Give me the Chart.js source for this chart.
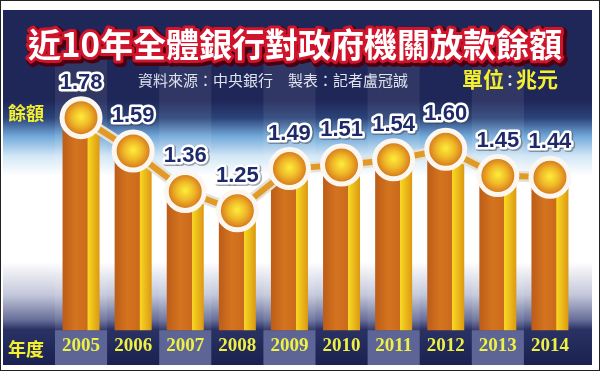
<!DOCTYPE html>
<html>
<head>
<meta charset="utf-8">
<script src="https://cdn.jsdelivr.net/npm/chart.js@4/dist/chart.umd.min.js"></script>
<style>
  html, body { margin: 0; padding: 0; background: #fff; }
  canvas { display: block; }
</style>
</head>
<body>
<canvas id="myChart" width="600" height="371"></canvas>
<script>
// data
const years = ['2005', '2006', '2007', '2008', '2009', '2010', '2011', '2012', '2013', '2014'];
const balance = [1.78, 1.59, 1.36, 1.25, 1.49, 1.51, 1.54, 1.60, 1.45, 1.44];

const titleText = '近10年全體銀行對政府機關放款餘額';
const sourceText = '資料來源：中央銀行　製表：記者盧冠誠';

const NAVY = '#1f2658';
const CJK = '"Noto Sans CJK TC", "Noto Sans CJK SC", sans-serif';

function colWidth(chart) {
  const x = chart.scales.x;
  return x.getPixelForValue(1) - x.getPixelForValue(0);
}

// orange bar with a yellow strip on its right side
function barFill(c) {
  const chart = c.chart;
  if (!chart.scales.x) return '#d47a26';
  const cx = chart.scales.x.getPixelForValue(c.dataIndex);
  const w = colWidth(chart) * 0.71;
  if (!Number.isFinite(cx) || !Number.isFinite(w)) return '#d47a26';
  const g = chart.ctx.createLinearGradient(cx - w / 2, 0, cx + w / 2, 0);
  g.addColorStop(0, '#bc5c18');
  g.addColorStop(0.35, '#d4741f');
  g.addColorStop(0.67, '#cc6a1c');
  g.addColorStop(0.68, '#f8d824');
  g.addColorStop(1, '#dc9812');
  return g;
}

// yellow centre, orange rim
function pointFill(c) {
  const chart = c.chart;
  if (!chart.scales.x || !chart.scales.y || c.raw == null) return '#e89a22';
  const cx = chart.scales.x.getPixelForValue(c.dataIndex);
  const cy = chart.scales.y.getPixelForValue(c.raw);
  if (!Number.isFinite(cx) || !Number.isFinite(cy)) return '#e89a22';
  const g = chart.ctx.createRadialGradient(cx, cy - 1, 1, cx, cy, 19);
  g.addColorStop(0, '#fbe838');
  g.addColorStop(0.45, '#f0b828');
  g.addColorStop(1, '#d06c1a');
  return g;
}

const backdrop = {
  id: 'backdrop',
  beforeDraw(chart) {
    const ctx = chart.ctx;
    const area = chart.chartArea;
    const x = chart.scales.x;
    const cw = colWidth(chart);
    ctx.save();
    ctx.fillStyle = '#ffffff';
    ctx.fillRect(0, 0, 600, 371);
    ctx.strokeStyle = '#222';
    ctx.lineWidth = 1;
    ctx.strokeRect(0.5, 0.5, 599, 370);

    // panel
    const L = 3, R = 592, T = 10, B = 365;
    ctx.fillStyle = NAVY;
    ctx.fillRect(L, T, R - L, B - T);
    const g = ctx.createLinearGradient(0, 100, 0, area.bottom);
    const span = area.bottom - 100;
    const stop = (y, col) => g.addColorStop((y - 100) / span, col);
    stop(100, NAVY);
    stop(118, '#2b4379');
    stop(136, '#71a8d9');
    stop(156, '#d2e7f6');
    stop(176, '#ffffff');
    stop(262, '#ffffff');
    stop(295, '#c3c7da');
    stop(320, '#676e98');
    stop(area.bottom, '#262d60');
    ctx.fillStyle = g;
    ctx.fillRect(L, 100, R - L, area.bottom - 100);

    // lighter stripes on alternate columns
    years.forEach((y, i) => {
      if (i % 2) return;
      const cx = x.getPixelForValue(i);
      ctx.fillStyle = 'rgba(255,255,255,0.08)';
      ctx.fillRect(cx - cw / 2, 60, cw, area.bottom - 60);
    });

    // year band
    const bg = ctx.createLinearGradient(0, area.bottom, 0, B);
    bg.addColorStop(0, '#2a3264');
    bg.addColorStop(1, '#1a2150');
    ctx.fillStyle = bg;
    ctx.fillRect(L, area.bottom, R - L, B - area.bottom);
    years.forEach((y, i) => {
      if (i % 2) return;
      const cx = x.getPixelForValue(i);
      ctx.fillStyle = '#5c6596';
      ctx.fillRect(cx - cw / 2, area.bottom, cw, B - area.bottom);
    });
    ctx.restore();
  }
};

const overlay = {
  id: 'overlay',
  afterDatasetsDraw(chart) {
    const ctx = chart.ctx;
    const meta = chart.getDatasetMeta(2);
    ctx.save();
    ctx.textAlign = 'center';
    ctx.textBaseline = 'middle';
    ctx.lineJoin = 'round';
    ctx.font = 'bold 22px "Liberation Sans", Arial, sans-serif';
    meta.data.forEach((pt, i) => {
      const s = balance[i].toFixed(2);
      const ty = pt.y - 35;
      ctx.strokeStyle = 'rgba(60,60,80,0.45)';
      ctx.lineWidth = 6;
      ctx.strokeText(s, pt.x + 1, ty + 1);
      ctx.strokeStyle = '#ffffff';
      ctx.lineWidth = 5;
      ctx.strokeText(s, pt.x, ty);
      ctx.fillStyle = '#1f2a6b';
      ctx.fillText(s, pt.x, ty);
    });
    ctx.restore();
  },
  afterDraw(chart) {
    const ctx = chart.ctx;
    ctx.save();
    ctx.textBaseline = 'middle';
    ctx.lineJoin = 'round';

    // title
    ctx.textAlign = 'center';
    ctx.font = 'bold 33px ' + CJK;
    ctx.strokeStyle = '#4a0010';
    ctx.lineWidth = 9;
    ctx.strokeText(titleText, 297, 46);
    ctx.strokeStyle = '#d0142c';
    ctx.lineWidth = 6;
    ctx.strokeText(titleText, 295, 44);
    ctx.fillStyle = '#ffffff';
    ctx.fillText(titleText, 295, 44);

    // source line
    ctx.textAlign = 'left';
    ctx.font = '15px ' + CJK;
    ctx.fillStyle = '#dfe2ee';
    ctx.fillText(sourceText, 138, 80);

    // unit
    ctx.font = 'bold 21px ' + CJK;
    ctx.fillStyle = '#f4f030';
    ctx.fillText('單位', 462, 79);
    ctx.fillText('兆元', 516, 79);
    ctx.textAlign = 'center';
    ctx.fillStyle = '#e6e8f2';
    ctx.font = 'bold 15px ' + CJK;
    ctx.fillText('：', 510, 80);

    // side labels
    ctx.textAlign = 'left';
    ctx.fillStyle = '#f4f030';
    ctx.font = 'bold 18px ' + CJK;
    ctx.fillText('餘額', 8, 113);
    ctx.fillText('年度', 8, 349);
    ctx.restore();
  }
};

const ctx = document.getElementById('myChart');
const myChart = new Chart(ctx, {
  type: 'bar',
  data: {
    labels: years,
    datasets: [
      {
        type: 'bar',
        data: balance,
        backgroundColor: barFill,
        borderWidth: 0,
        barPercentage: 0.71,
        categoryPercentage: 1,
        order: 3
      },
      {
        type: 'line',
        data: balance,
        borderColor: '#e4e0da',
        borderWidth: 11,
        pointRadius: 0,
        tension: 0,
        order: 2
      },
      {
        type: 'line',
        data: balance,
        borderColor: '#e29a26',
        borderWidth: 6,
        tension: 0,
        pointRadius: 19,
        pointBorderWidth: 5,
        pointBorderColor: '#fbf7f0',
        pointBackgroundColor: pointFill,
        order: 1
      }
    ]
  },
  options: {
    responsive: false,
    devicePixelRatio: 1,
    animation: false,
    layout: { padding: { left: 55, right: 24, top: 79, bottom: 10 } },
    plugins: {
      legend: { display: false },
      tooltip: { enabled: false }
    },
    scales: {
      x: {
        offset: true,
        grid: { display: false, drawTicks: false },
        border: { display: false },
        ticks: {
          color: '#eef046',
          padding: 4,
          maxRotation: 0,
          autoSkip: false,
          font: { family: '"Liberation Serif", "DejaVu Serif", serif', size: 19, weight: 'bold' }
        }
      },
      y: {
        display: false,
        min: 0.57,
        max: 2.0
      }
    }
  },
  plugins: [backdrop, overlay]
});
</script>
</body>
</html>
